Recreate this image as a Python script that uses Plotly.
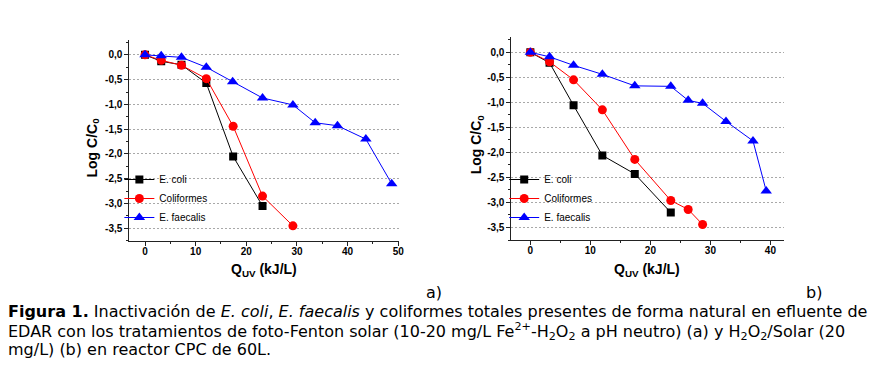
import plotly.graph_objects as go

# ---------------- data ----------------
# Panel a) solar photo-Fenton
a_ecoli_x = [0, 3.2, 7.2, 12.1, 17.4, 23.2]
a_ecoli_y = [0, -0.13, -0.20, -0.57, -2.05, -3.05]
a_coli_x = [0, 3.2, 7.2, 12.1, 17.4, 23.2, 29.2]
a_coli_y = [0, -0.11, -0.21, -0.48, -1.44, -2.85, -3.45]
a_faec_x = [0, 3.2, 7.2, 12.1, 17.3, 23.2, 29.2, 33.6, 38.0, 43.6, 48.7]
a_faec_y = [0, -0.02, -0.05, -0.25, -0.54, -0.87, -1.01, -1.37, -1.43, -1.70, -2.60]

# Panel b) H2O2 / solar
b_ecoli_x = [0, 3.2, 7.2, 12.0, 17.4, 23.4]
b_ecoli_y = [0, -0.21, -1.06, -2.06, -2.43, -3.20]
b_coli_x = [0, 3.2, 7.2, 12.0, 17.4, 23.4, 26.3, 28.7]
b_coli_y = [0, -0.19, -0.55, -1.15, -2.14, -2.96, -3.14, -3.44]
b_faec_x = [0, 3.2, 7.2, 12.0, 17.4, 23.4, 26.3, 28.7, 32.6, 37.1, 39.3]
b_faec_y = [0, -0.09, -0.26, -0.44, -0.67, -0.68, -0.96, -1.02, -1.38, -1.77, -2.77]

series_names = ["E. coli", "Coliformes", "E. faecalis"]

y_tickvals = [0, -0.5, -1.0, -1.5, -2.0, -2.5, -3.0, -3.5]
y_ticktext = ["0,0", "-0,5", "-1,0", "-1,5", "-2,0", "-2,5", "-3,0", "-3,5"]
a_x_tickvals = [0, 10, 20, 30, 40, 50]
a_x_ticktext = ["0", "10", "20", "30", "40", "50"]
b_x_tickvals = [0, 10, 20, 30, 40]
b_x_ticktext = ["0", "10", "20", "30", "40"]

caption_lines = [
    "<b>Figura 1.</b> Inactivación de <i>E. coli</i>, <i>E. faecalis</i> y coliformes totales presentes de forma natural en efluente de",
    "EDAR con los tratamientos de foto-Fenton solar (10-20 mg/L Fe<sup>2+</sup>-H<sub>2</sub>O<sub>2</sub> a pH neutro) (a) y H<sub>2</sub>O<sub>2</sub>/Solar (20",
    "mg/L) (b) en reactor CPC de 60L.",
]

# ---------------- styling ----------------
OFF = 8  # default page body margin
W, H = 896 - OFF, 380 - OFF
FONT = "Liberation Sans, Arial, sans-serif"
CAPFONT = "DejaVu Sans, sans-serif"
colors = ["#000000", "#ff0000", "#0000ff"]
symbols = ["square", "circle", "triangle-up"]
msizes = [8, 9, 10]


def px_x(p):
    return (p - OFF) / W


def px_y(p):
    return 1 - (p - OFF) / H


fig = go.Figure()

panels = [
    ("x", "y", "legend", [(a_ecoli_x, a_ecoli_y), (a_coli_x, a_coli_y), (a_faec_x, a_faec_y)]),
    ("x2", "y2", "legend2", [(b_ecoli_x, b_ecoli_y), (b_coli_x, b_coli_y), (b_faec_x, b_faec_y)]),
]
for xa, ya, lg, data in panels:
    for i, (xs, ys) in enumerate(data):
        fig.add_trace(go.Scatter(
            x=xs, y=ys, xaxis=xa, yaxis=ya, legend=lg,
            name=series_names[i], mode="lines+markers",
            line=dict(color=colors[i], width=1),
            marker=dict(symbol=symbols[i], size=msizes[i], color=colors[i],
                        line=dict(width=0)),
        ))

tickfont = dict(family=FONT, size=10, color="#000000", weight="bold")


def xaxis(domain, rng, tv, tt, anchor):
    return dict(domain=domain, range=rng, anchor=anchor,
                tickmode="array", tickvals=tv, ticktext=tt,
                ticks="outside", ticklen=4, tickwidth=1, tickcolor="#222",
                ticklabelstandoff=-3,
                minor=dict(tickmode="linear", tick0=0, dtick=5, ticks="outside",
                           ticklen=2, tickcolor="#222", showgrid=False),
                showline=True, linecolor="#222", linewidth=1,
                showgrid=False, zeroline=False, tickfont=tickfont)


def yaxis(domain, anchor):
    return dict(domain=domain, range=[-3.75, 0.3], anchor=anchor,
                tickmode="array", tickvals=y_tickvals, ticktext=y_ticktext,
                ticks="outside", ticklen=4, tickwidth=1, tickcolor="#222",
                minor=dict(tickmode="linear", tick0=0, dtick=0.25, ticks="outside",
                           ticklen=2, tickcolor="#222", showgrid=False),
                showline=True, linecolor="#222", linewidth=1,
                showgrid=True, gridcolor="#a8a8a8", gridwidth=1, griddash="2px,2px",
                zeroline=False, tickfont=tickfont)


legend_common = dict(xanchor="left", yanchor="top", bgcolor="rgba(0,0,0,0)",
                     font=dict(family=FONT, size=10, color="#000"),
                     tracegroupgap=0, itemwidth=30, borderwidth=0)

fig.update_layout(
    width=W, height=H,
    margin=dict(l=0, r=0, t=0, b=0),
    paper_bgcolor="white", plot_bgcolor="white",
    showlegend=True,
    xaxis=xaxis([px_x(130), px_x(401)], [-3.1, 50.1], a_x_tickvals, a_x_ticktext, "y"),
    yaxis=yaxis([px_y(240.7), px_y(40)], "x"),
    xaxis2=xaxis([px_x(514.3), px_x(788)], [-3.15, 42.2], b_x_tickvals, b_x_ticktext, "y2"),
    yaxis2=yaxis([px_y(240), px_y(37.3)], "x2"),
    legend=dict(x=px_x(120), y=px_y(165), **legend_common),
    legend2=dict(x=px_x(507), y=px_y(165), **legend_common),
)

# axis titles
title_font = dict(family=FONT, size=14, color="#000")
ann = []
ann.append(dict(text="<b>Log C/C<sub>0</sub></b>", x=px_x(93), y=px_y(148), textangle=-90))
ann.append(dict(text="<b>Log C/C<sub>0</sub></b>", x=px_x(480), y=px_y(144), textangle=-90))
ann.append(dict(text="<b>Q<sub>UV</sub> (kJ/L)</b>", x=px_x(265), y=px_y(270)))
ann.append(dict(text="<b>Q<sub>UV</sub> (kJ/L)</b>", x=px_x(651), y=px_y(270)))
for a in ann:
    fig.add_annotation(xref="paper", yref="paper", showarrow=False,
                       xanchor="center", yanchor="middle", font=title_font, **a)

cap_font = dict(family=CAPFONT, size=16, color="#000")
fig.add_annotation(text="a)", x=px_x(436), y=px_y(292), xref="paper", yref="paper",
                   showarrow=False, xanchor="center", yanchor="middle", font=cap_font)
fig.add_annotation(text="b)", x=px_x(819), y=px_y(292), xref="paper", yref="paper",
                   showarrow=False, xanchor="center", yanchor="middle", font=cap_font)
for i, (line, yp) in enumerate(zip(caption_lines, [311, 331, 349])):
    fig.add_annotation(text=line, x=px_x(6), y=px_y(yp), xref="paper", yref="paper",
                       showarrow=False, xanchor="left", yanchor="middle", align="left",
                       font=cap_font)

fig.write_html("out.html", config={"displayModeBar": False})
